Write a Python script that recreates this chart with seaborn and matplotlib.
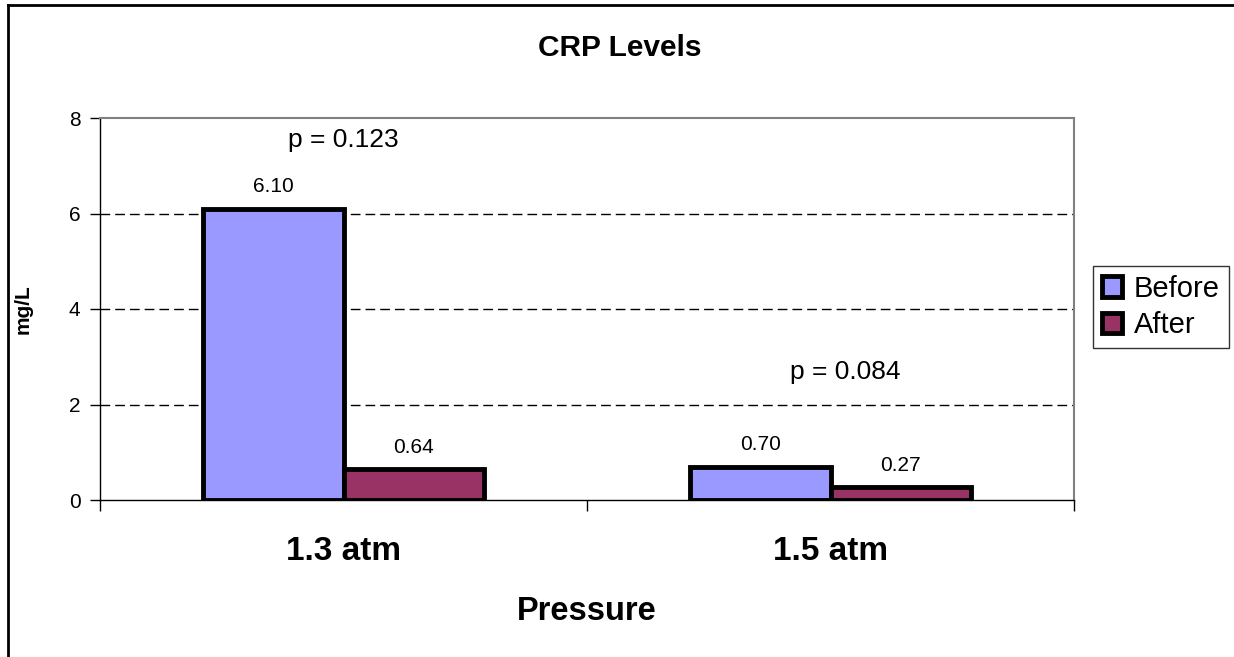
import pandas as pd
import numpy as np
import matplotlib
matplotlib.use("Agg")
import matplotlib.pyplot as plt
import seaborn as sns
from matplotlib.patches import Patch
from matplotlib.lines import Line2D

# chart values
pressures = ["1.3 atm", "1.5 atm"]
times = ["Before", "After"]
before_vals = [6.10, 0.70]
after_vals = [0.64, 0.27]
p_labels = ["p = 0.123", "p = 0.084"]
p_heights = [7.54, 2.68]
p_offsets = [0.0, 0.03]
colors = ["#9999FF", "#993366"]

df = pd.DataFrame({
    "pressure": pressures * 2,
    "time": ["Before"] * 2 + ["After"] * 2,
    "crp": before_vals + after_vals,
})

plt.rcParams["font.family"] = ["Liberation Sans", "DejaVu Sans"]

fig = plt.figure(figsize=(12.34, 6.57), dpi=100)
ax = fig.add_axes([100 / 1234, 1 - 500 / 657, 974 / 1234, 382 / 657])

sns.barplot(data=df, x="pressure", y="crp", hue="time", hue_order=times,
            order=pressures, palette=colors, width=0.575, edgecolor="black",
            linewidth=3.5, errorbar=None, legend=False, saturation=1, ax=ax)

for cont in ax.containers:
    ax.bar_label(cont, fmt="%.2f", padding=9, fontsize=15)

for i, (lab, h) in enumerate(zip(p_labels, p_heights)):
    ax.text(i + p_offsets[i], h, lab, ha="center", va="center", fontsize=19)

ax.set_xlim(-0.5, 1.5)
ax.set_ylim(0, 8)
ax.set_yticks([0, 2, 4, 6, 8])
ax.yaxis.grid(True, color="black", linestyle=(0, (7, 3.6)), linewidth=1)
ax.set_axisbelow(True)
# no dashed line on top of the 0 and 8 borders
gl = ax.yaxis.get_gridlines()
gl[0].set_visible(False)
gl[-1].set_visible(False)
ax.tick_params(axis="y", direction="out", length=7, width=1, labelsize=15, pad=7)

ax.set_xticks([0, 1])
ax.set_xticklabels(pressures, fontsize=24, fontweight="bold")
ax.tick_params(axis="x", which="major", length=0, pad=26)
ax.set_xticks([-0.5, 0.5, 1.5], minor=True)
ax.tick_params(axis="x", which="minor", direction="out", length=8, width=1)

ax.set_xlabel("Pressure", fontsize=23.5, fontweight="bold", labelpad=21)
ax.set_ylabel("mg/L", fontsize=15, fontweight="bold", labelpad=26)

for s in ["left", "bottom"]:
    ax.spines[s].set_color("black")
    ax.spines[s].set_linewidth(1)
for s in ["top", "right"]:
    ax.spines[s].set_color("#808080")
    ax.spines[s].set_linewidth(1.5)

fig.text(620 / 1234, 1 - 48 / 657, "CRP Levels", ha="center", va="center",
         fontsize=21.5, fontweight="bold")

handles = [Patch(facecolor=c, edgecolor="black", linewidth=3.5, label=t)
           for c, t in zip(colors, times)]
leg = ax.legend(handles=handles, loc="center left",
                bbox_to_anchor=(1093 / 1234, 1 - 307 / 657),
                bbox_transform=fig.transFigure, fontsize=21, frameon=True,
                fancybox=False, edgecolor="black", handlelength=0.7,
                handleheight=0.7, handletextpad=0.4, borderpad=0.3,
                labelspacing=0.3, borderaxespad=0)
leg.get_frame().set_linewidth(1)

# outer chart border
fig.add_artist(Line2D([8 / 1234, 1], [1 - 5 / 657, 1 - 5 / 657],
                      transform=fig.transFigure, color="black", linewidth=2))
fig.add_artist(Line2D([8 / 1234, 8 / 1234], [0, 1 - 5 / 657],
                      transform=fig.transFigure, color="black", linewidth=2))

fig.savefig("out.png", dpi=100)
